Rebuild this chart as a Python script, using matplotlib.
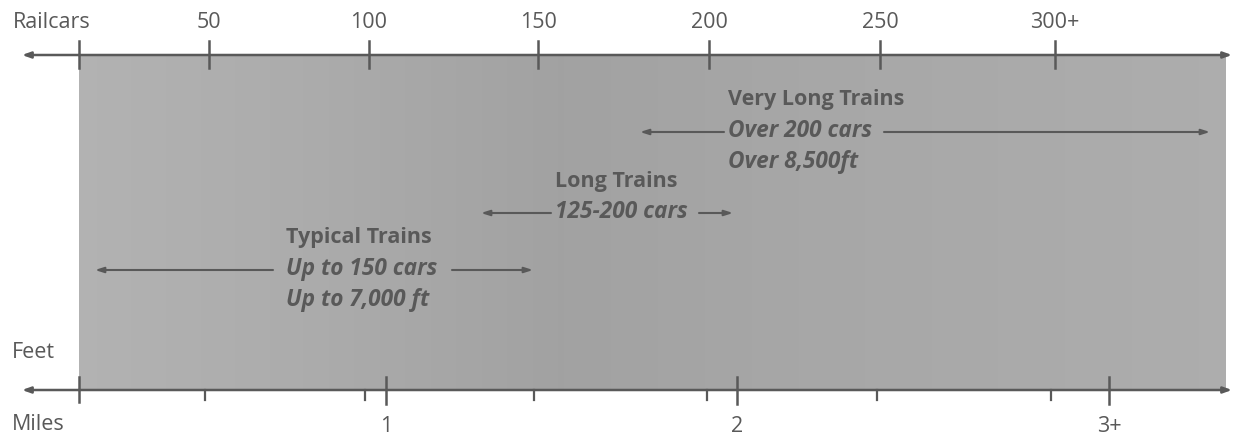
import numpy as np
import matplotlib.pyplot as plt

# The reference is a hand-laid diagram (tick spacing is not linear), so the
# x axis uses the picture's own horizontal scale.
railcar_labels = ["50", "100", "150", "200", "250", "300+"]
railcar_pos = [209, 369, 538, 709, 880, 1055]
mile_labels = ["1", "2", "3+"]
mile_pos = [386, 737, 1109]
feet_pos = [205, 365, 534, 707, 877, 1051]
origin = 79
end = 1226

categories = ["Typical Trains", "Long Trains", "Very Long Trains"]
detail_1 = ["Up to 150 cars", "125-200 cars", "Over 200 cars"]
detail_2 = ["Up to 7,000 ft", "", "Over 8,500ft"]
range_start = [95, 481, 640]
range_end = [533, 733, 1210]
gap_left = [273, 551, 724]
gap_right = [452, 699, 884]
text_x = [286, 555, 728]
text_y = [238, 181, 100]

# background shading (gray level across the band)
grad_x = [79, 300, 560, 800, 1226]
grad_gray = [0.70, 0.675, 0.635, 0.655, 0.68]

TXT = "#595959"
LINE = "#595959"
FS = 15.5
FS_IT = 16.3
plt.rcParams["font.family"] = ["Open Sans", "DejaVu Sans"]

fig = plt.figure(figsize=(12.33, 4.38), dpi=100)
ax = fig.add_axes([0, 0, 1, 1])
ax.set_xlim(0, 1233)
ax.set_ylim(438, 0)
ax.axis("off")

top_y, bot_y = 55, 390

# gradient band
xs = np.arange(origin, end + 1)
g = np.interp(xs, grad_x, grad_gray)
img = np.repeat(g[None, :, None], 3, axis=2)
ax.imshow(img, extent=(origin, end, bot_y, top_y), aspect="auto",
          interpolation="bilinear", zorder=0)

# axis lines with arrows both sides
for y in (top_y, bot_y):
    ax.annotate("", xy=(22, y), xytext=(origin, y),
                arrowprops=dict(arrowstyle="-|>,head_length=0.5,head_width=0.18",
                                color=LINE, lw=1.8, shrinkA=0, shrinkB=0))
    ax.annotate("", xy=(1232, y), xytext=(origin, y),
                arrowprops=dict(arrowstyle="-|>,head_length=0.5,head_width=0.18",
                                color=LINE, lw=1.8, shrinkA=0, shrinkB=0))

# top: railcars
ax.plot([origin, origin], [41, 68], color=LINE, lw=1.8)
for p, lab in zip(railcar_pos, railcar_labels):
    ax.plot([p, p], [41, 68], color=LINE, lw=1.8)
    ax.text(p, 23, lab, ha="center", va="center", fontsize=FS, color=TXT)
ax.text(13, 23, "Railcars", ha="left", va="center", fontsize=FS, color=TXT)

# bottom: feet (short ticks) and miles
ax.plot([origin, origin], [377, 402], color=LINE, lw=1.8)
for p in feet_pos:
    ax.plot([p, p], [390, 400], color=LINE, lw=1.6)
for p, lab in zip(mile_pos, mile_labels):
    ax.plot([p, p], [377, 404], color=LINE, lw=1.8)
    ax.text(p, 427, lab, ha="center", va="center", fontsize=FS, color=TXT)
ax.text(12, 353, "Feet", ha="left", va="center", fontsize=FS, color=TXT)
ax.text(12, 425, "Miles", ha="left", va="center", fontsize=FS, color=TXT)

# train categories
arrow = dict(arrowstyle="-|>,head_length=0.5,head_width=0.16",
             color=LINE, lw=1.5, shrinkA=0, shrinkB=0)
for i, name in enumerate(categories):
    y0 = text_y[i]
    ax.text(text_x[i], y0, name, ha="left", va="center", fontsize=FS,
            fontweight="bold", color=TXT)
    ax.text(text_x[i], y0 + 31, detail_1[i], ha="left", va="center",
            fontsize=FS_IT, fontweight="bold", style="italic", color=TXT)
    if detail_2[i]:
        ax.text(text_x[i], y0 + 62, detail_2[i], ha="left", va="center",
                fontsize=FS_IT, fontweight="bold", style="italic", color=TXT)
    ay = y0 + 32
    ax.annotate("", xy=(range_start[i], ay), xytext=(gap_left[i], ay), arrowprops=arrow)
    ax.annotate("", xy=(range_end[i], ay), xytext=(gap_right[i], ay), arrowprops=arrow)

fig.savefig("out.png", dpi=100)
